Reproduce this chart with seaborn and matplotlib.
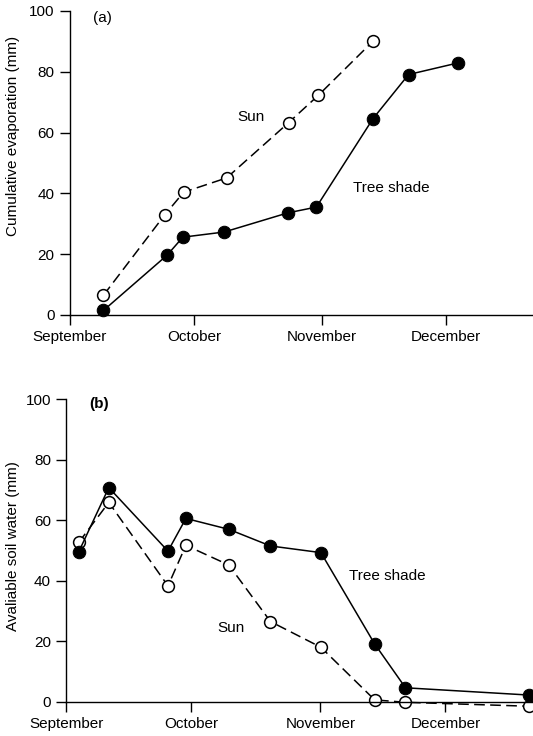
import matplotlib
matplotlib.use("Agg")
import matplotlib.pyplot as plt
import seaborn as sns

# =========================
# DATA (days after 1 September)
# =========================
month_ticks = [0, 30, 61, 91]
month_labels = ["September", "October", "November", "December"]

# (a) cumulative evaporation
evap_sun_day = [8.1, 22.9, 27.5, 37.9, 52.9, 60.1, 73.4]
evap_sun = [6.5, 32.9, 40.4, 45.1, 63.3, 72.3, 90.2]
evap_shade_day = [8.1, 23.5, 27.3, 37.3, 52.7, 59.6, 73.3, 81.9, 93.8]
evap_shade = [1.5, 19.7, 25.6, 27.3, 33.6, 35.5, 64.6, 79.1, 82.9]

# (b) available soil water
soil_day = [3.0, 10.2, 24.4, 28.7, 39.0, 49.0, 61.1, 74.0, 81.4, 111.0]
soil_sun = [52.7, 65.9, 38.3, 51.7, 45.2, 26.5, 18.0, 0.6, -0.2, -1.5]
soil_shade = [49.6, 70.8, 49.8, 60.6, 57.0, 51.5, 49.3, 19.1, 4.6, 2.2]

sns.set_style("ticks")
plt.rcParams["font.family"] = ["Liberation Sans", "DejaVu Sans"]
plt.rcParams.update({
    "axes.linewidth": 1.0,
    "axes.edgecolor": "black",
    "axes.labelcolor": "black",
    "text.color": "black",
    "xtick.color": "black",
    "ytick.color": "black",
    "xtick.major.size": 7,
    "ytick.major.size": 7,
    "xtick.major.width": 1.0,
    "ytick.major.width": 1.0,
})

FS = 11
fig = plt.figure(figsize=(5.33, 7.36), dpi=100)
W, H = 533, 736


def add_axes(x0, y_top, y_bot):
    return fig.add_axes([x0 / W, 1 - y_bot / H, 1 - x0 / W, (y_bot - y_top) / H])


ax1 = add_axes(70, 11, 315)
ax2 = add_axes(66.3, 399.3, 701.7)

sun_kw = dict(color="black", linewidth=1.1, linestyle=(0, (7, 3.5)),
              marker="o", markersize=8.5, markerfacecolor="white",
              markeredgecolor="black", markeredgewidth=1.1, clip_on=False)
shade_kw = dict(color="black", linewidth=1.1, linestyle="-",
                marker="o", markersize=9, markerfacecolor="black",
                markeredgecolor="black", clip_on=False)


def label_px(x, y, s, **kw):
    # text placed in figure pixels, measured from the top
    fig.text(x / W, 1 - y / H, s, fontsize=FS, ha="center", va="center", **kw)


# =========================
# (a)
# =========================
sns.lineplot(x=evap_sun_day, y=evap_sun, ax=ax1, **sun_kw)
sns.lineplot(x=evap_shade_day, y=evap_shade, ax=ax1, **shade_kw)
label_px(251, 117, "Sun")
label_px(391, 188, "Tree shade")
label_px(102, 18, "(a)")
ax1.set_ylabel("Cumulative evaporation (mm)", fontsize=FS)
ax1.yaxis.set_label_coords((20 - 70) / 463, 1 - (135.5 - 11) / 304)

# =========================
# (b)
# =========================
sns.lineplot(x=soil_day, y=soil_sun, ax=ax2, **sun_kw)
sns.lineplot(x=soil_day, y=soil_shade, ax=ax2, **shade_kw)
label_px(231, 627.7, "Sun")
label_px(387.6, 575.7, "Tree shade")
label_px(99, 404, "(b)", fontweight="bold")
ax2.set_ylabel("Avaliable soil water (mm)", fontsize=FS)
ax2.yaxis.set_label_coords((20 - 66.3) / 466.7, 1 - (545.7 - 399.3) / 302.4)

for ax in (ax1, ax2):
    ax.set_xlim(0, 112)
    ax.set_ylim(0, 100)
    ax.set_xticks(month_ticks)
    ax.set_xticklabels(month_labels, fontsize=FS)
    ax.set_yticks([0, 20, 40, 60, 80, 100])
    ax.tick_params(axis="y", labelsize=FS, pad=4)
    ax.tick_params(axis="x", pad=4)
    ax.set_xlabel("")
    sns.despine(ax=ax)

fig.savefig("out.png", dpi=100)
